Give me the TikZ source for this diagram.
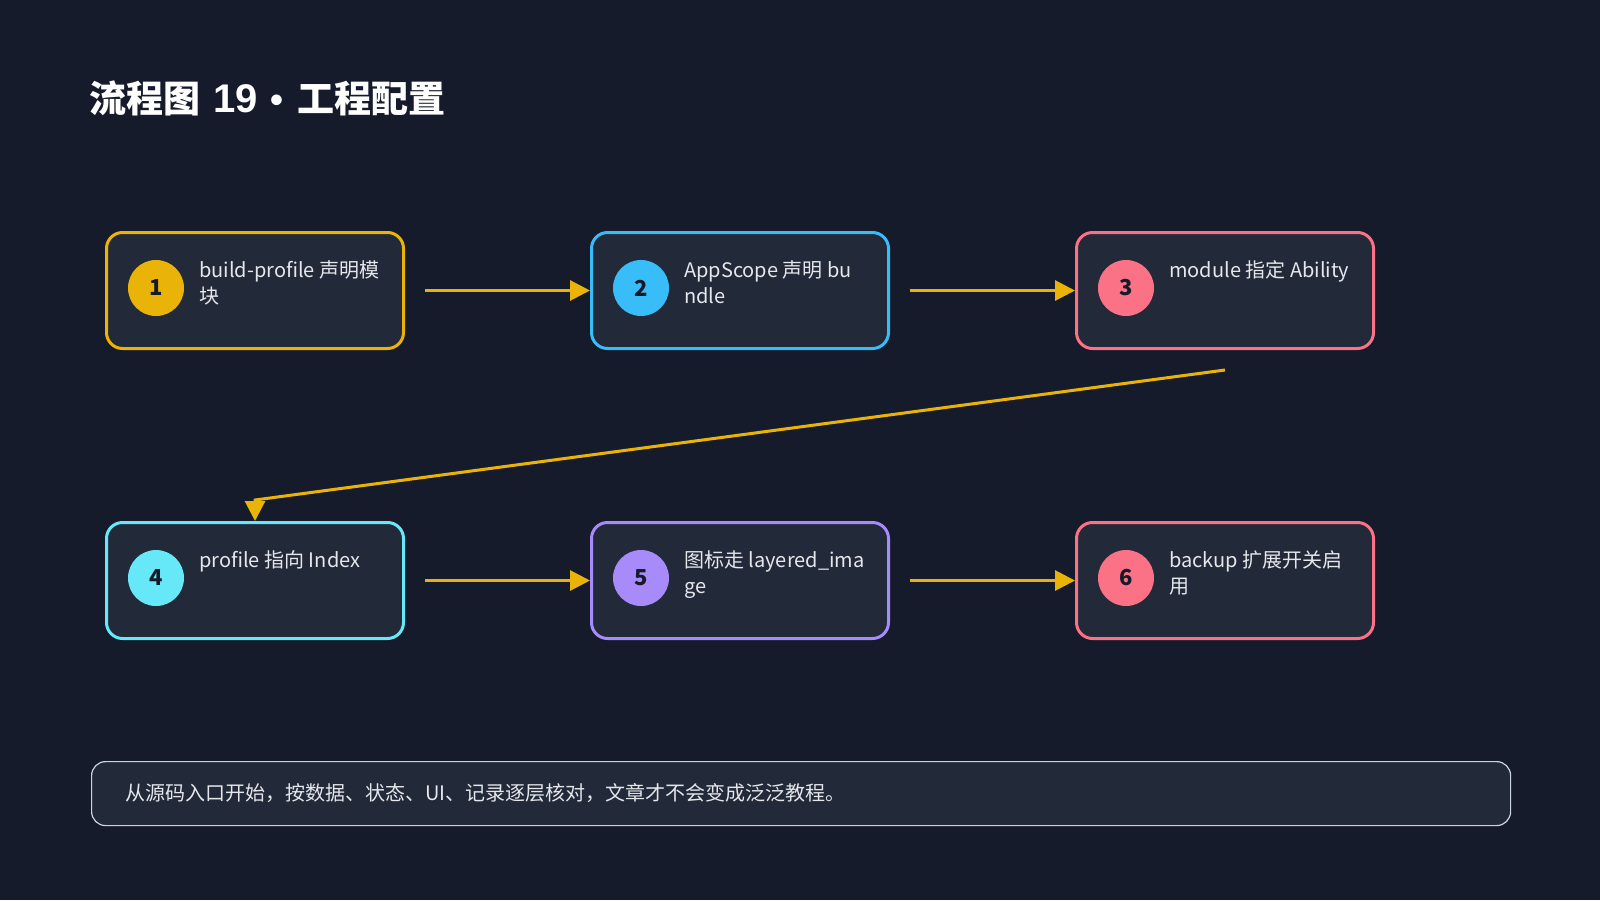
\documentclass[tikz,border=0pt]{standalone}
\usepackage{fontspec}
\setmainfont{Noto Sans CJK SC}
\newfontfamily\latb{Liberation Sans}
\usetikzlibrary{arrows.meta,calc}
\definecolor{bg}{HTML}{161B2B}
\definecolor{boxfill}{HTML}{222938}
\definecolor{cyel}{HTML}{EAB308}
\definecolor{cblue}{HTML}{38BDF8}
\definecolor{cpink}{HTML}{FB7185}
\definecolor{ccyan}{HTML}{67E8F9}
\definecolor{cpurp}{HTML}{A78BFA}
\definecolor{ctext}{HTML}{E5E7EB}
\definecolor{cnote}{HTML}{CBD5E1}
\tikzset{
  stepbox/.style={draw=#1, line width=3pt, fill=boxfill, rounded corners=16pt,
    minimum width=297pt, minimum height=116pt, inner sep=0pt, anchor=north west},
  badge/.style={circle, fill=#1, minimum size=56pt, inner sep=0pt,
    font=\fontsize{22}{22}\selectfont\bfseries, text=bg},
  label/.style={anchor=base west, inner sep=0pt, text=ctext, font=\fontsize{20}{26}\selectfont},
  flow/.style={draw=cyel, line width=3pt, -{Triangle[length=20pt,width=20pt]}},
}
\newcommand{\twolines}[2]{\parbox[t]{200pt}{\raggedright #1\\#2}}
\begin{document}
\begin{tikzpicture}[x=1pt,y=-1pt]
\fill[bg] (0,0) rectangle (1600,900);
\useasboundingbox (0,0) rectangle (1600,900);
% title
\node[anchor=base west, inner sep=0pt, text=white, font=\fontsize{37}{37}\selectfont\bfseries] (title) at (89,112) {流程图\hspace{13pt}{\latb\bfseries\fontsize{40}{40}\selectfont 19}\hspace{13pt}{\latb\bfseries •}\hspace{14pt}工程配置};
% boxes
\node[stepbox=cyel]  (b1) at (105,231) {};
\node[stepbox=cblue] (b2) at (590,231) {};
\node[stepbox=cpink] (b3) at (1075,231) {};
\node[stepbox=ccyan] (b4) at (105,521) {};
\node[stepbox=cpurp] (b5) at (590,521) {};
\node[stepbox=cpink] (b6) at (1075,521) {};
% badges
\node[badge=cyel]  (n1) at (156,288) {1};
\node[badge=cblue] (n2) at (641,288) {2};
\node[badge=cpink] (n3) at (1126,288) {3};
\node[badge=ccyan] (n4) at (156,578) {4};
\node[badge=cpurp] (n5) at (641,578) {5};
\node[badge=cpink] (n6) at (1126,578) {6};
% labels
\node[label] (t1) at (199,277) {\twolines{build-profile 声明模}{块}};
\node[label] (t2) at (684,277) {\twolines{AppScope 声明 bu}{ndle}};
\node[label] (t3) at (1169,277) {module 指定 Ability};
\node[label] (t4) at (199,567) {profile 指向 Index};
\node[label] (t5) at (684,567) {\twolines{图标走 layered\_ima}{ge}};
\node[label] (t6) at (1169,567) {\twolines{backup 扩展开关启}{用}};
% connectors
\coordinate (s12) at ($(b1.east)+(20,0)$);
\coordinate (s23) at ($(b2.east)+(20,0)$);
\coordinate (s45) at ($(b4.east)+(20,0)$);
\coordinate (s56) at ($(b5.east)+(20,0)$);
\coordinate (s34) at ($(b3.south)+(0,20)$);
\coordinate (m34) at ($(b4.north)+(0,-21)$);
\draw[flow] (s12) -- (b2.west);
\draw[flow] (s23) -- (b3.west);
\draw[flow] (s45) -- (b5.west);
\draw[flow] (s56) -- (b6.west);
\draw[flow] (s34) -- (m34) -- (b4.north);
% note
\node[draw=cnote, line width=1.2pt, fill=boxfill, rounded corners=14pt, minimum width=1419pt,
  minimum height=64pt, anchor=north west, inner sep=0pt] (note) at (91,761) {};
\node[anchor=west, inner sep=0pt, text=ctext, font=\fontsize{20}{24}\selectfont] (notetext) at (125,793) {从源码入口开始，按数据、状态、UI、记录逐层核对，文章才不会变成泛泛教程。};
\end{tikzpicture}
\end{document}
